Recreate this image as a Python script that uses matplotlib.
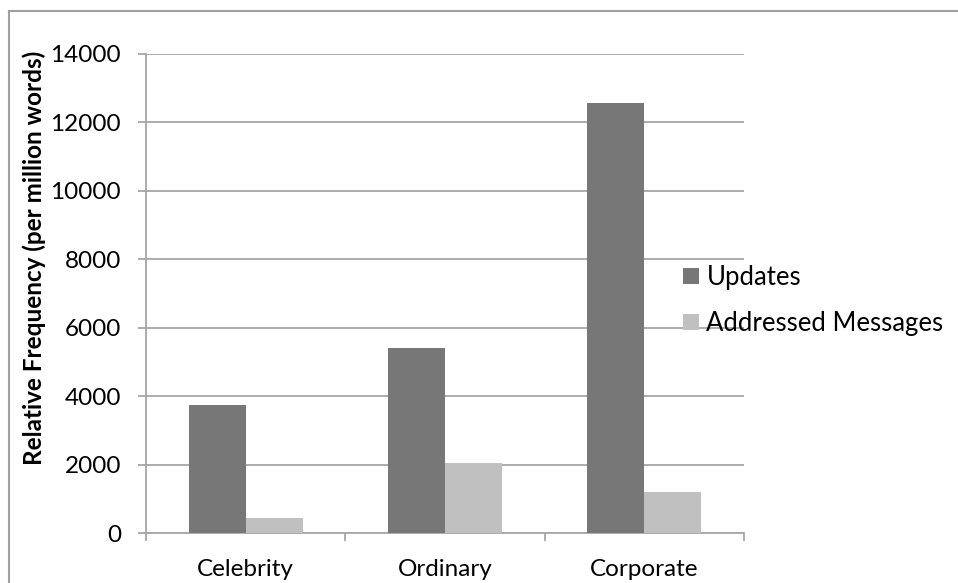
import matplotlib
matplotlib.use("Agg")
import matplotlib.pyplot as plt
from matplotlib.lines import Line2D
import numpy as np

categories = ["Celebrity", "Ordinary", "Corporate"]
updates = [3740, 5410, 12560]
addressed = [440, 2050, 1200]
series_names = ["Updates", "Addressed Messages"]
yticks = [0, 2000, 4000, 6000, 8000, 10000, 12000, 14000]

plt.rcParams['font.family'] = ['Lato', 'DejaVu Sans']
FS = 17.5

W, H = 958, 583
fig = plt.figure(figsize=(W/100, H/100), dpi=100)
ax = fig.add_axes([146/W, 50/H, (744-146)/W, (533-54)/H])

grid_c = '#a6a6a6'
x = np.arange(len(categories))
w = 1/3.5
ax.bar(x - w/2, updates, w, color='#777777', label=series_names[0], zorder=3)
ax.bar(x + w/2, addressed, w, color='#c0c0c0', label=series_names[1], zorder=3)

ax.set_xlim(-0.5, len(categories) - 0.5)
ax.set_ylim(0, 14000)
ax.set_yticks(yticks)
ax.set_yticklabels([str(v) for v in yticks], fontsize=FS)
ax.yaxis.grid(True, color=grid_c, linewidth=1.3, zorder=0)
ax.set_axisbelow(True)

ax.set_xticks(x)
ax.set_xticklabels(categories, fontsize=FS)
ax.tick_params(axis='x', which='major', length=0, pad=19)
ax.set_xticks(np.arange(-0.5, len(categories)), minor=True)
ax.tick_params(axis='x', which='minor', length=6, color=grid_c, width=1.3, direction='out')
ax.tick_params(axis='y', length=6, color=grid_c, width=1.3, direction='out', pad=12)

for s in ['top', 'right']:
    ax.spines[s].set_visible(False)
for s in ['left', 'bottom']:
    ax.spines[s].set_color(grid_c)
    ax.spines[s].set_linewidth(1.3)

ax.set_ylabel("Relative Frequency (per million words)", fontsize=FS, fontweight='bold')
ax.yaxis.set_label_coords(-100/598, (533 - 258) / (533 - 54))

leg = fig.legend(loc='upper left', bbox_to_anchor=(673/W, 1 - 255/H), frameon=False,
                 fontsize=18.5, handlelength=0.6, handleheight=0.6, handletextpad=0.3,
                 labelspacing=0.82, borderaxespad=0)

# outer chart border (left and top visible)
fig.add_artist(Line2D([9/W, 9/W], [0, 1 - 11/H], transform=fig.transFigure, color='#a0a0a0', linewidth=1.5))
fig.add_artist(Line2D([9/W, 1], [1 - 11/H, 1 - 11/H], transform=fig.transFigure, color='#a0a0a0', linewidth=1.5))

fig.savefig("out.png", dpi=100)
